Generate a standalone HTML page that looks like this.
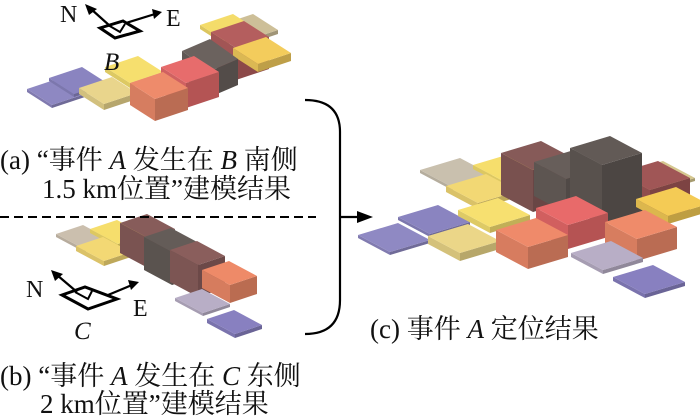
<!DOCTYPE html>
<html><head><meta charset="utf-8"><style>
html,body{margin:0;padding:0;background:#fff;width:700px;height:420px;overflow:hidden}
svg{display:block}
.t{font-family:"Liberation Serif","Noto Serif CJK SC",serif;font-size:27px;fill:#111}
</style></head><body>
<svg id="s" width="700" height="420" viewBox="0 0 700 420" xmlns="http://www.w3.org/2000/svg">
<g id="boxes"></g>
<g stroke="#000" fill="none" stroke-width="3">
<polygon points="100,28 123,21 140,31 115,38"/>
<polyline points="108,25 120,32 125,24" stroke-width="2"/>
<polygon points="62,295 85,287 117,299 88,309"/>
<polyline points="75,292 88,299 92,291" stroke-width="2"/>
</g>
<g stroke="#000" stroke-width="2.2" fill="none">
<line x1="110" y1="26" x2="91" y2="9"/>
<line x1="126" y1="23" x2="155" y2="14"/>
<line x1="77" y1="292" x2="57" y2="275"/>
<line x1="108" y1="295" x2="132" y2="285"/>
</g>
<g fill="#000">
<polygon points="85,4 97,9 89,15"/>
<polygon points="162,12 152,9 154,19"/>
<polygon points="51,270 63,274 55,281"/>
<polygon points="139,282 128,280 131,290"/>
</g>
<text x="60" y="22" class="t" style="font-size:24px">N</text>
<text x="166" y="26" class="t" style="font-size:24px">E</text>
<text x="104" y="70" class="t" style="font-style:italic;font-size:25px">B</text>
<text x="26" y="297" class="t" style="font-size:24px">N</text>
<text x="133" y="316" class="t" style="font-size:24px">E</text>
<text x="74" y="339" class="t" style="font-style:italic;font-size:25px">C</text>

<text x="0" y="169" class="t">(a) “事件 <tspan font-style="italic">A</tspan> 发生在 <tspan font-style="italic">B</tspan> 南侧</text>
<text x="42" y="198" class="t">1.5 km位置”建模结果</text>
<line x1="0" y1="217" x2="316" y2="217" stroke="#000" stroke-width="2" stroke-dasharray="9,5"/>
<text x="0" y="385" class="t">(b) “事件 <tspan font-style="italic">A</tspan> 发生在 <tspan font-style="italic">C</tspan> 东侧</text>
<text x="40" y="413" class="t">2 km位置”建模结果</text>
<text x="370" y="338" class="t">(c) 事件 <tspan font-style="italic">A</tspan> 定位结果</text>

<path d="M305,100 Q340,100 340,132 L340,300 Q340,334 305,334" stroke="#000" stroke-width="2.2" fill="none"/>
<line x1="340" y1="217" x2="362" y2="217" stroke="#000" stroke-width="2.2"/>
<polygon points="373,217 357,211 357,223" fill="#000"/>
</svg>
<script>
var g=document.getElementById('boxes');
function sh(c,f){var r=parseInt(c.substr(1,2),16),gg=parseInt(c.substr(3,2),16),b=parseInt(c.substr(5,2),16);
return 'rgb('+Math.round(r*f)+','+Math.round(gg*f)+','+Math.round(b*f)+')';}
function poly(pts,fill){var p=document.createElementNS('http://www.w3.org/2000/svg','polygon');
p.setAttribute('points',pts.map(function(q){return q[0].toFixed(1)+','+q[1].toFixed(1)}).join(' '));
p.setAttribute('fill',fill);g.appendChild(p);}
function box(px,py,h,c,u,v){
var P=[px,py],U=[px+u[0],py+u[1]],V=[px+v[0],py+v[1]];
var Pt=[px,py-h],Ut=[U[0],U[1]-h],Vt=[V[0],V[1]-h],UVt=[px+u[0]+v[0],py+u[1]+v[1]-h];
poly([P,V,Vt,Pt],sh(c,0.9));
poly([P,U,Ut,Pt],sh(c,0.78));
poly([Pt,Ut,UVt,Vt],c);}
var A={u:[33,-11],v:[-25,-16]},B={u:[27,-9],v:[-28,-15]},C={u:[40,-12],v:[-32,-17]};
var la=[[245,45,4,'#cdbf98'],[225,45,4,'#f4dc6a'],[52,108,3,'#8e88c2'],[74,97,3,'#8a84c0'],
[130,88,5,'#f6df6e'],[104,110,6,'#e9d58c'],[236,80,32,'#b45e5e'],[258,72,8,'#f3cc5c'],
[210,97,26,'#6b625e',[28,-12],[-28,-20]],[186,108,25,'#e76c6c'],[155,121,22,'#ee8b6b']];
la.forEach(function(b){box(b[0],b[1],b[2],b[3],b[4]||A.u,b[5]||A.v)});
var lb=[[84,252,3,'#cbbfae'],[118,248,4,'#f6de6c'],[104,266,5,'#f3d874'],[148,268,30,'#875c5a'],
[172,285,33,'#645c58'],[198,297,32,'#8a5e5c'],[230,303,18,'#ee8a68'],[203,316,3,'#b8aec6'],[235,338,4,'#8880c0']];
lb.forEach(function(b){box(b[0],b[1],b[2],b[3],B.u,B.v)});
var lc=[[452,190,3,'#c9c0ae'],[505,186,4,'#f6de6c'],[478,209,6,'#f2d874'],[655,193,3,'#d5c78f'],
[533,212,42,'#865a58'],[650,222,32,'#a05656'],[566,213,34,'#675e5a'],[602,225,60,'#625a56'],
[668,224,8,'#f4cb55'],[390,255,3,'#8f89c3'],[430,237,3,'#8a84c0'],[490,233,6,'#f7e070'],
[460,261,8,'#ebd688'],[568,249,24,'#e86a6a'],[528,269,22,'#ef8a6a'],[637,261,22,'#ef8b6a'],
[603,274,4,'#b8aec6'],[645,298,4,'#8880c0']];
lc.forEach(function(b){box(b[0],b[1],b[2],b[3],C.u,C.v)});
</script>
</body></html>
